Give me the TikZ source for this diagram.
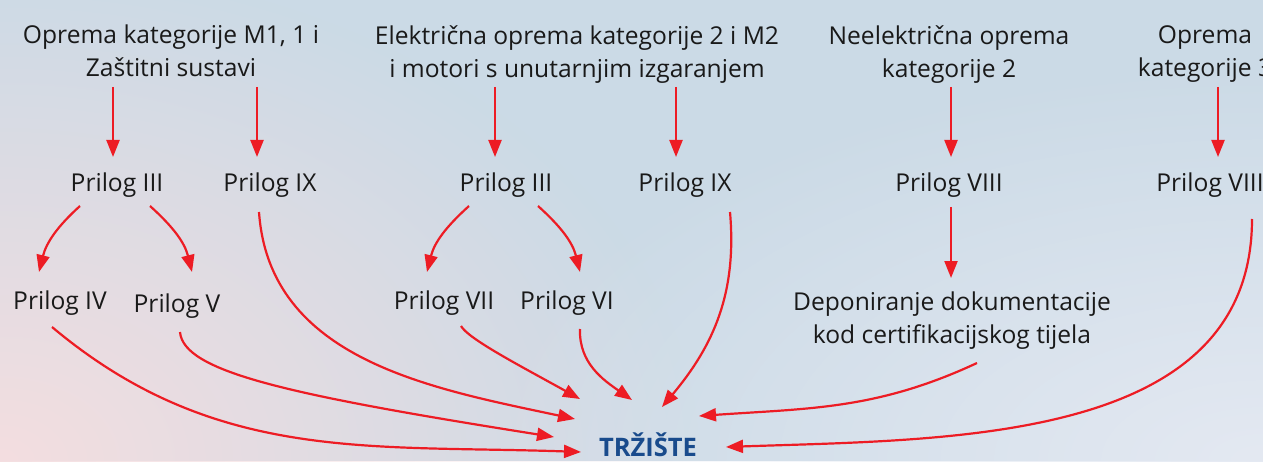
\documentclass[tikz,border=0pt]{standalone}
\usepackage{fontspec}
\setmainfont{Open Sans}
\usetikzlibrary{arrows.meta,calc,fadings}
\definecolor{bgblue}{RGB}{203,218,230}
\definecolor{bgpink}{RGB}{244,222,224}
\definecolor{bglight}{RGB}{228,233,242}
\definecolor{arrred}{RGB}{237,28,36}
\definecolor{trzblue}{RGB}{25,75,140}
\tikzfading[name=glowfade,inner color=transparent!0,outer color=transparent!100]
\begin{document}
\begin{tikzpicture}[x=1pt,y=1pt,>={Triangle[length=17pt,width=13pt]},
  txt/.style={inner sep=0pt,text=black!90,font=\fontsize{24.6}{33}\selectfont,align=center},
  arr/.style={->,draw=arrred,line width=2.2pt}]
\useasboundingbox (0,0) rectangle (1263,461);
\clip (0,0) rectangle (1263,461);
\fill[bgblue] (0,0) rectangle (1263,461);
\fill[bgpink,path fading=glowfade] (0,0) ellipse (700pt and 500pt);
\fill[bglight,path fading=glowfade] (1263,0) ellipse (800pt and 400pt);
\node[txt,anchor=north] (opr1) at (171,436) {Oprema kategorije M1, 1 i\\Zaštitni sustavi};
\node[txt,anchor=north] (opr2) at (577,436) {Električna oprema kategorije 2 i M2\\i motori s unutarnjim izgaranjem};
\node[txt,anchor=north] (opr3) at (949,436) {Neelektrična oprema\\kategorije 2};
\node[txt,anchor=north] (opr4) at (1205,436) {Oprema\\kategorije 3};
\node[txt,anchor=base] (p3a) at (117,269) {Prilog III};
\node[txt,anchor=base] (p9a) at (270,269) {Prilog IX};
\node[txt,anchor=base] (p3b) at (506,269) {Prilog III};
\node[txt,anchor=base] (p9b) at (685,269) {Prilog IX};
\node[txt,anchor=base] (p8a) at (949,269) {Prilog VIII};
\node[txt,anchor=base] (p8b) at (1210,269) {Prilog VIII};
\node[txt,anchor=base] (p4) at (60,152) {Prilog IV};
\node[txt,anchor=base] (p5) at (177,149) {Prilog V};
\node[txt,anchor=base] (p7) at (444,152) {Prilog VII};
\node[txt,anchor=base] (p6) at (567,152) {Prilog VI};
\node[txt,anchor=north] (dep) at (952,169) {Deponiranje dokumentacije\\kod certifikacijskog tijela};
\node[txt,anchor=base,text=trzblue,font=\fontsize{25.5}{33}\selectfont\bfseries] (trz) at (648,5) {TRŽIŠTE};
\draw[arr]($(opr1.north -| p3a.base)+(-4,-62)$)--($(p3a.base)+(-4,35)$);
\draw[arr]($(opr1.north -| p9a.base)+(-13,-62)$)--($(p9a.base)+(-13,35)$);
\draw[arr]($(opr2.north -| p3b.base)+(-11,-62)$)--($(p3b.base)+(-11,35)$);
\draw[arr]($(opr2.north -| p9b.base)+(-9,-62)$)--($(p9b.base)+(-9,35)$);
\draw[arr]($(opr3.north -| p8a.base)+(2,-62)$)--($(p8a.base)+(2,35)$);
\draw[arr]($(opr4.north -| p8b.base)+(8,-62)$)--($(p8b.base)+(8,35)$);
\draw[arr]($(p8a.base)+(2,-15)$)--($(dep.north)+(-1,14)$);
\draw[arr]($(p3a.base)+(-37,-14)$)to[out=222,in=76]($(p4.base)+(-21,37)$);
\draw[arr]($(p3a.base)+(33,-14)$)to[out=-42,in=104]($(p5.base)+(15,40)$);
\draw[arr]($(p3b.base)+(-37,-14)$)to[out=222,in=76]($(p7.base)+(-17,37)$);
\draw[arr]($(p3b.base)+(32,-14)$)to[out=-42,in=104]($(p6.base)+(13,37)$);
\draw[arr]($(p4.base)+(-8,-18)$)to[out=-40,in=178]($(trz.base)+(-67,4)$);
\draw[arr]($(p5.base)+(3,-20)$)to[out=-85,in=171,out distance=40pt,in distance=270pt]($(trz.base)+(-94,19)$);
\draw[arr]($(p9a.base)+(-11,-20)$)to[out=-86,in=168]($(trz.base)+(-73,37)$);
\draw[arr]($(p7.base)+(17,-17)$)to[out=-60,in=151,out distance=15pt,in distance=70pt]($(trz.base)+(-68,57)$);
\draw[arr]($(p6.base)+(13,-20)$)to[out=-92,in=145]($(trz.base)+(-16,56)$);
\draw[arr]($(p9b.base)+(45,-20)$)to[out=-85,in=50]($(trz.base)+(14,49)$);
\draw[arr]($(dep.south)+(25,-13)$)to[out=205,in=4]($(trz.base)+(51,40)$);
\draw[arr]($(p8b.base)+(42,-27)$)to[out=-90,in=2]($(trz.base)+(78,9)$);
\end{tikzpicture}
\end{document}
